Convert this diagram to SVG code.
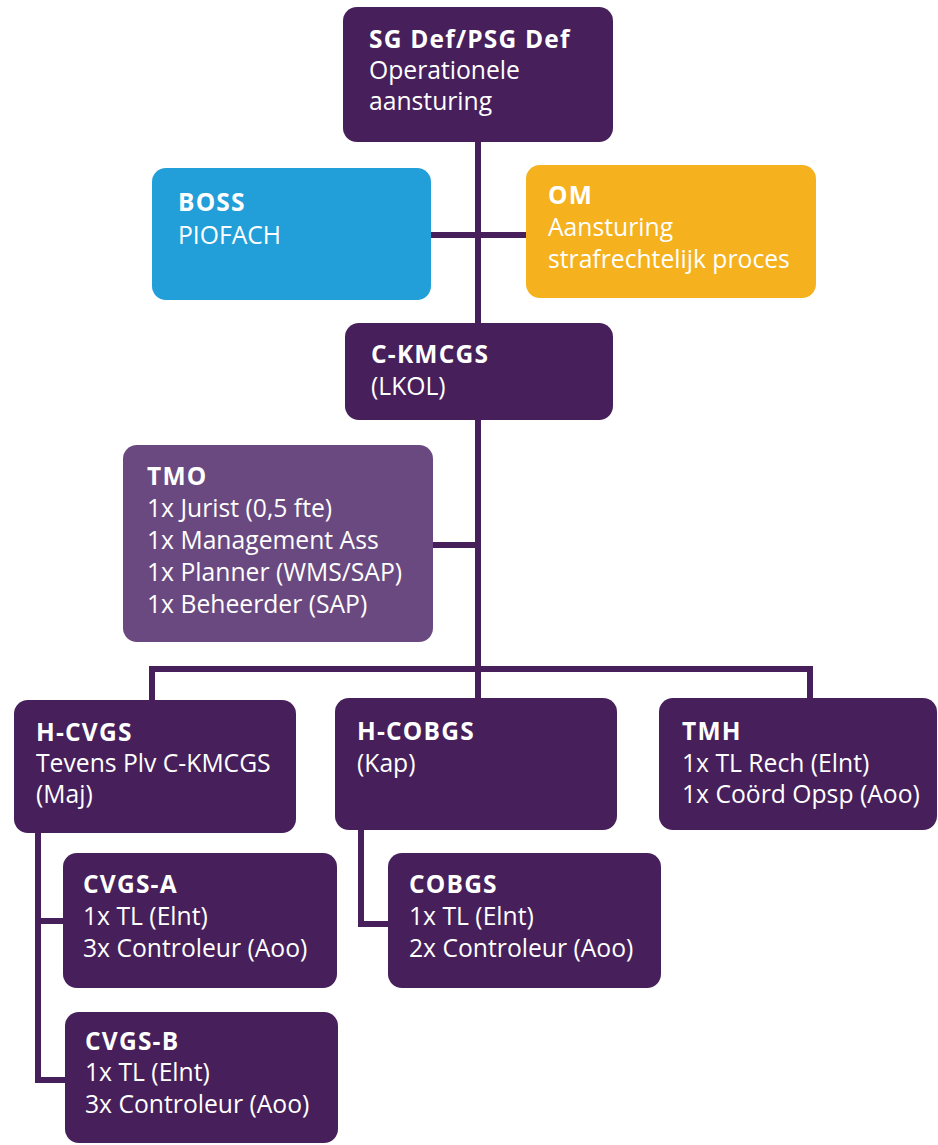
<svg xmlns="http://www.w3.org/2000/svg" width="938" height="1145" viewBox="0 0 938 1145">
<style>
.box{fill:#461f5b}
.blue{fill:#229fd9}
.orange{fill:#f5b11e}
.tmo{fill:#6a4980}
.ln{stroke:#461f5b;stroke-width:6;fill:none;stroke-linecap:butt;stroke-linejoin:miter}
text{font-family:"Open Sans","DejaVu Sans",sans-serif;font-size:24.7px;fill:#ffffff}
.t{font-weight:700;font-size:24.5px;letter-spacing:1.2px}
</style>
<rect width="938" height="1145" fill="#ffffff"/>
<g id="connectors">
<path class="ln" d="M478 140 V698"/>
<path class="ln" d="M430 235 H527"/>
<path class="ln" d="M432 545 H478"/>
<path class="ln" d="M152 701 V669 H810 V699"/>
<path class="ln" d="M38 832 V1080 H66"/>
<path class="ln" d="M38 921 H64"/>
<path class="ln" d="M361 829 V924 H389"/>
</g>
<g id="sg-def">
<rect class="box" x="343" y="7" width="270" height="135" rx="14"/>
<text x="369" y="48" class="t">SG Def/PSG Def</text>
<text x="369" y="79">Operationele</text>
<text x="369" y="110">aansturing</text>
</g>
<g id="boss">
<rect class="blue" x="152" y="168" width="279" height="132" rx="14"/>
<text x="178" y="211" class="t">BOSS</text>
<text x="178" y="244">PIOFACH</text>
</g>
<g id="om">
<rect class="orange" x="526" y="165" width="290" height="133" rx="14"/>
<text x="548" y="204" class="t">OM</text>
<text x="548" y="236">Aansturing</text>
<text x="548" y="268">strafrechtelijk proces</text>
</g>
<g id="c-kmcgs">
<rect class="box" x="345" y="323" width="268" height="97" rx="14"/>
<text x="371" y="363" class="t">C-KMCGS</text>
<text x="371" y="395">(LKOL)</text>
</g>
<g id="tmo">
<rect class="tmo" x="123" y="445" width="310" height="197" rx="14"/>
<text x="147" y="485" class="t">TMO</text>
<text x="147" y="517">1x Jurist (0,5 fte)</text>
<text x="147" y="549">1x Management Ass</text>
<text x="147" y="581">1x Planner (WMS/SAP)</text>
<text x="147" y="613">1x Beheerder (SAP)</text>
</g>
<g id="h-cvgs">
<rect class="box" x="14" y="700" width="282" height="133" rx="14"/>
<text x="36" y="741" class="t">H-CVGS</text>
<text x="36" y="772">Tevens Plv C-KMCGS</text>
<text x="36" y="803">(Maj)</text>
</g>
<g id="h-cobgs">
<rect class="box" x="335" y="698" width="282" height="132" rx="14"/>
<text x="357" y="740" class="t">H-COBGS</text>
<text x="357" y="772">(Kap)</text>
</g>
<g id="tmh">
<rect class="box" x="659" y="698" width="278" height="132" rx="14"/>
<text x="682" y="740" class="t">TMH</text>
<text x="682" y="772">1x TL Rech (Elnt)</text>
<text x="682" y="803">1x Coörd Opsp (Aoo)</text>
</g>
<g id="cvgs-a">
<rect class="box" x="63" y="853" width="274" height="135" rx="14"/>
<text x="83" y="893" class="t">CVGS-A</text>
<text x="83" y="925">1x TL (Elnt)</text>
<text x="83" y="957">3x Controleur (Aoo)</text>
</g>
<g id="cobgs">
<rect class="box" x="388" y="853" width="273" height="135" rx="14"/>
<text x="409" y="893" class="t">COBGS</text>
<text x="409" y="925">1x TL (Elnt)</text>
<text x="409" y="957">2x Controleur (Aoo)</text>
</g>
<g id="cvgs-b">
<rect class="box" x="65" y="1012" width="273" height="131" rx="14"/>
<text x="85" y="1050" class="t">CVGS-B</text>
<text x="85" y="1081">1x TL (Elnt)</text>
<text x="85" y="1113">3x Controleur (Aoo)</text>
</g>
</svg>
